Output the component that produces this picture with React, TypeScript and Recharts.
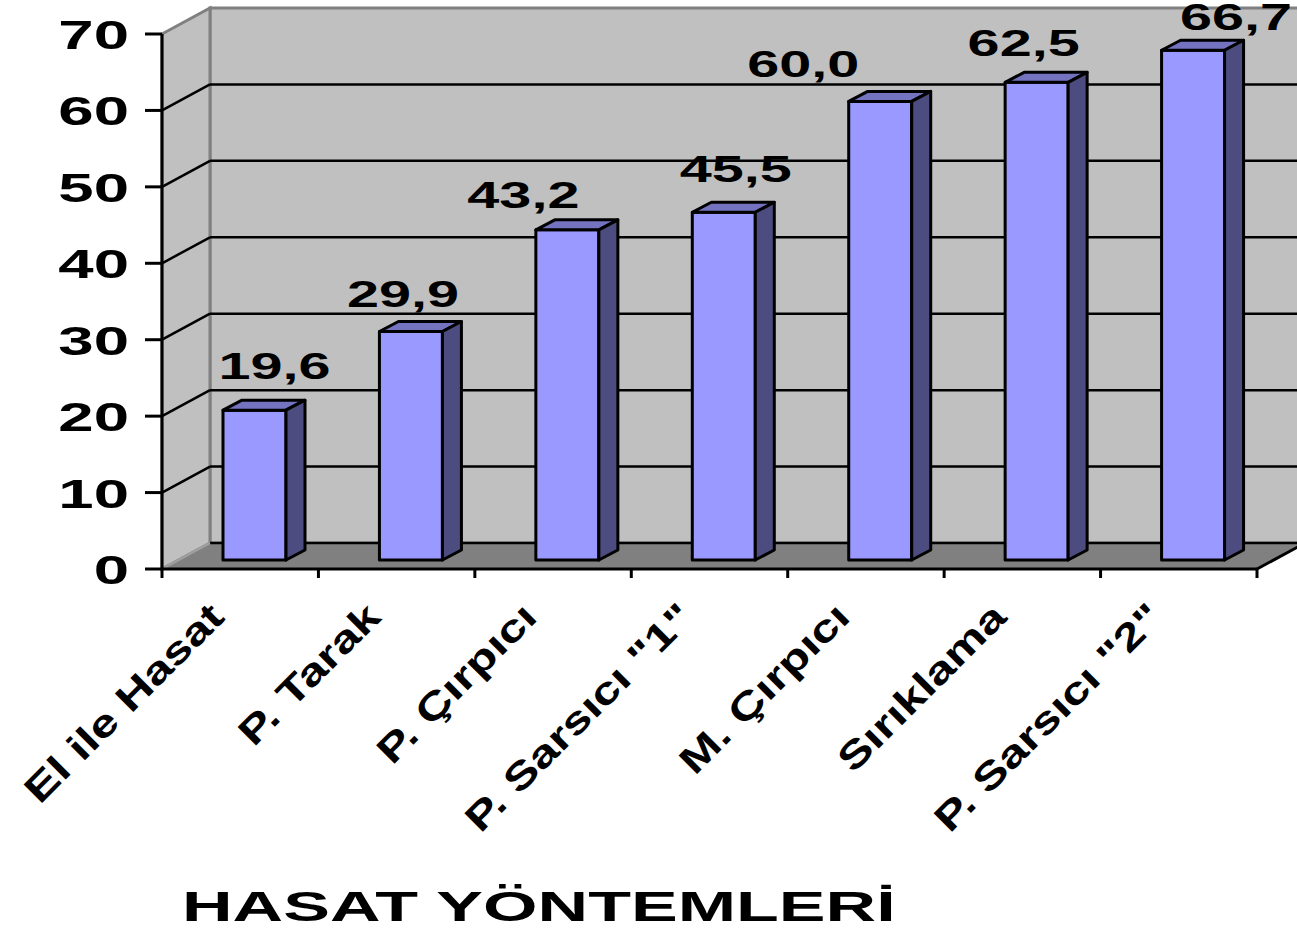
import React from "react";
import { BarChart, Bar, XAxis, YAxis, ReferenceArea } from "recharts";

const methods = [
  "El ile Hasat",
  "P. Tarak",
  "P. Çırpıcı",
  'P. Sarsıcı "1"',
  "M. Çırpıcı",
  "Sırıklama",
  'P. Sarsıcı "2"',
];
const rates = [19.6, 29.9, 43.2, 45.5, 60.0, 62.5, 66.7];
const yTicks = [0, 10, 20, 30, 40, 50, 60, 70];
const gridValues = [0, 10, 20, 30, 40, 50, 60];
const axisTitle = "HASAT YÖNTEMLERİ";

// value labels were dragged by hand, so each one has its own offset
// from the top front edge of its column
const labelNudge = [
  [20, -31],
  [-8, -24],
  [-44, -22],
  [12, -30],
  [-77, -24],
  [-13, -26],
  [43, -20],
];

const data = methods.map((name, i) => ({ name, value: rates[i] }));

const FONT = '"Liberation Sans", Arial, sans-serif';
const WALL = { dx: 48, dy: -26 };
const COL_SHIFT = { dx: 14, dy: -9 };
const COL_DEPTH = { dx: 19, dy: -10 };

const formatValue = (v: number) => v.toFixed(1).replace(".", ",");

function Walls(props: any) {
  const { x, y, width, height } = props;
  const { dx, dy } = WALL;
  const b = y + height;
  return (
    <g>
      <rect x={x + dx} y={y + dy} width={width} height={height} fill="#C0C0C0" stroke="#808080" strokeWidth={3} />
      <polygon
        points={`${x},${y} ${x + dx},${y + dy} ${x + dx},${b + dy} ${x},${b}`}
        fill="#C0C0C0"
        stroke="#808080"
        strokeWidth={3}
      />
      <polygon
        points={`${x},${b} ${x + width},${b} ${x + width + dx},${b + dy} ${x + dx},${b + dy}`}
        fill="#808080"
      />
      <line x1={x + width} y1={b} x2={x + width + dx} y2={b + dy} stroke="#000" strokeWidth={3} />
    </g>
  );
}

const gridShape = (v: number) => (props: any) => {
  const { x, y, width } = props;
  const { dx, dy } = WALL;
  return (
    <g>
      <line x1={x + dx} y1={y + dy} x2={x + width + dx} y2={y + dy} stroke="#000" strokeWidth={2.5} />
      <line
        x1={x}
        y1={y}
        x2={x + dx}
        y2={y + dy}
        stroke={v === 0 ? "#A0A0A0" : "#000"}
        strokeWidth={v === 0 ? 2 : 2.5}
      />
    </g>
  );
};

function Column(props: any) {
  const { x, y, width, height, index, payload } = props;
  const fx = x + COL_SHIFT.dx;
  const fy = y + COL_SHIFT.dy;
  const { dx, dy } = COL_DEPTH;
  const top = `${fx},${fy} ${fx + dx},${fy + dy} ${fx + width + dx},${fy + dy} ${fx + width},${fy}`;
  const side = `${fx + width},${fy} ${fx + width + dx},${fy + dy} ${fx + width + dx},${fy + height + dy} ${fx + width},${fy + height}`;
  const [ndx, ndy] = labelNudge[index] ?? [0, -24];
  return (
    <g>
      <g stroke="#000" strokeWidth={3} strokeLinejoin="round">
        <rect x={fx} y={fy} width={width} height={height} fill="#9999FF" />
        <polygon points={top} fill="#7373C0" />
        <polygon points={side} fill="#4C4C80" />
      </g>
      <text
        transform={`translate(${fx + width / 2 + ndx},${fy + ndy}) scale(1.6,1)`}
        textAnchor="middle"
        fontFamily={FONT}
        fontWeight="bold"
        fontSize={36}
        fill="#000"
      >
        {formatValue(payload.value)}
      </text>
    </g>
  );
}

function RateTick(props: any) {
  const { x, y, payload } = props;
  return (
    <text
      transform={`translate(${x - 16},${y + 15}) scale(1.55,1)`}
      textAnchor="end"
      fontFamily={FONT}
      fontWeight="bold"
      fontSize={41}
      fill="#000"
    >
      {payload.value}
    </text>
  );
}

function MethodTick(props: any) {
  const { x, y, payload, index, visibleTicksCount, width } = props;
  const count = visibleTicksCount || methods.length;
  const half = payload?.offset || width / count / 2;
  const last = index === count - 1;
  return (
    <g>
      <line x1={x - half} x2={x - half} y1={y - 9} y2={y} stroke="#000" strokeWidth={3} />
      {last && <line x1={x + half} x2={x + half} y1={y - 9} y2={y} stroke="#000" strokeWidth={3} />}
      <text
        transform={`translate(${x - 14},${y + 41}) rotate(-45) scale(1.3,1)`}
        textAnchor="end"
        fontFamily={FONT}
        fontWeight="bold"
        fontSize={38}
        fill="#000"
      >
        {payload.value}
      </text>
    </g>
  );
}

function AxisTitle(props: any) {
  const vb = props.viewBox || { x: 162, y: 569 };
  return (
    <text
      transform={`translate(${vb.x + 20},${vb.y + 352}) scale(1.63,1)`}
      textAnchor="start"
      fontFamily={FONT}
      fontWeight="bold"
      fontSize={43}
      fill="#000"
    >
      {axisTitle}
    </text>
  );
}

export default function App() {
  return (
    <div style={{ position: "absolute", left: 0, top: 0, background: "#fff" }}>
      <BarChart
        width={1297}
        height={929}
        data={data}
        margin={{ top: 34, right: 40, bottom: 0, left: 0 }}
        barSize={63}
      >
        <ReferenceArea y1={0} y2={70} ifOverflow="visible" shape={Walls} />
        {gridValues.map((v) => (
          <ReferenceArea key={v} y1={v} y2={v} ifOverflow="visible" shape={gridShape(v)} />
        ))}
        <XAxis
          dataKey="name"
          interval={0}
          height={360}
          axisLine={{ stroke: "#000", strokeWidth: 3 }}
          tickLine={false}
          tickSize={9}
          tickMargin={0}
          tick={MethodTick}
          label={{ content: AxisTitle }}
        />
        <YAxis
          type="number"
          domain={[0, 70]}
          ticks={yTicks}
          interval={0}
          width={162}
          axisLine={{ stroke: "#000", strokeWidth: 3 }}
          tickLine={{ stroke: "#000", strokeWidth: 3 }}
          tickSize={17}
          tickMargin={0}
          tick={RateTick}
        />
        <Bar dataKey="value" shape={Column} isAnimationActive={false} />
      </BarChart>
    </div>
  );
}
